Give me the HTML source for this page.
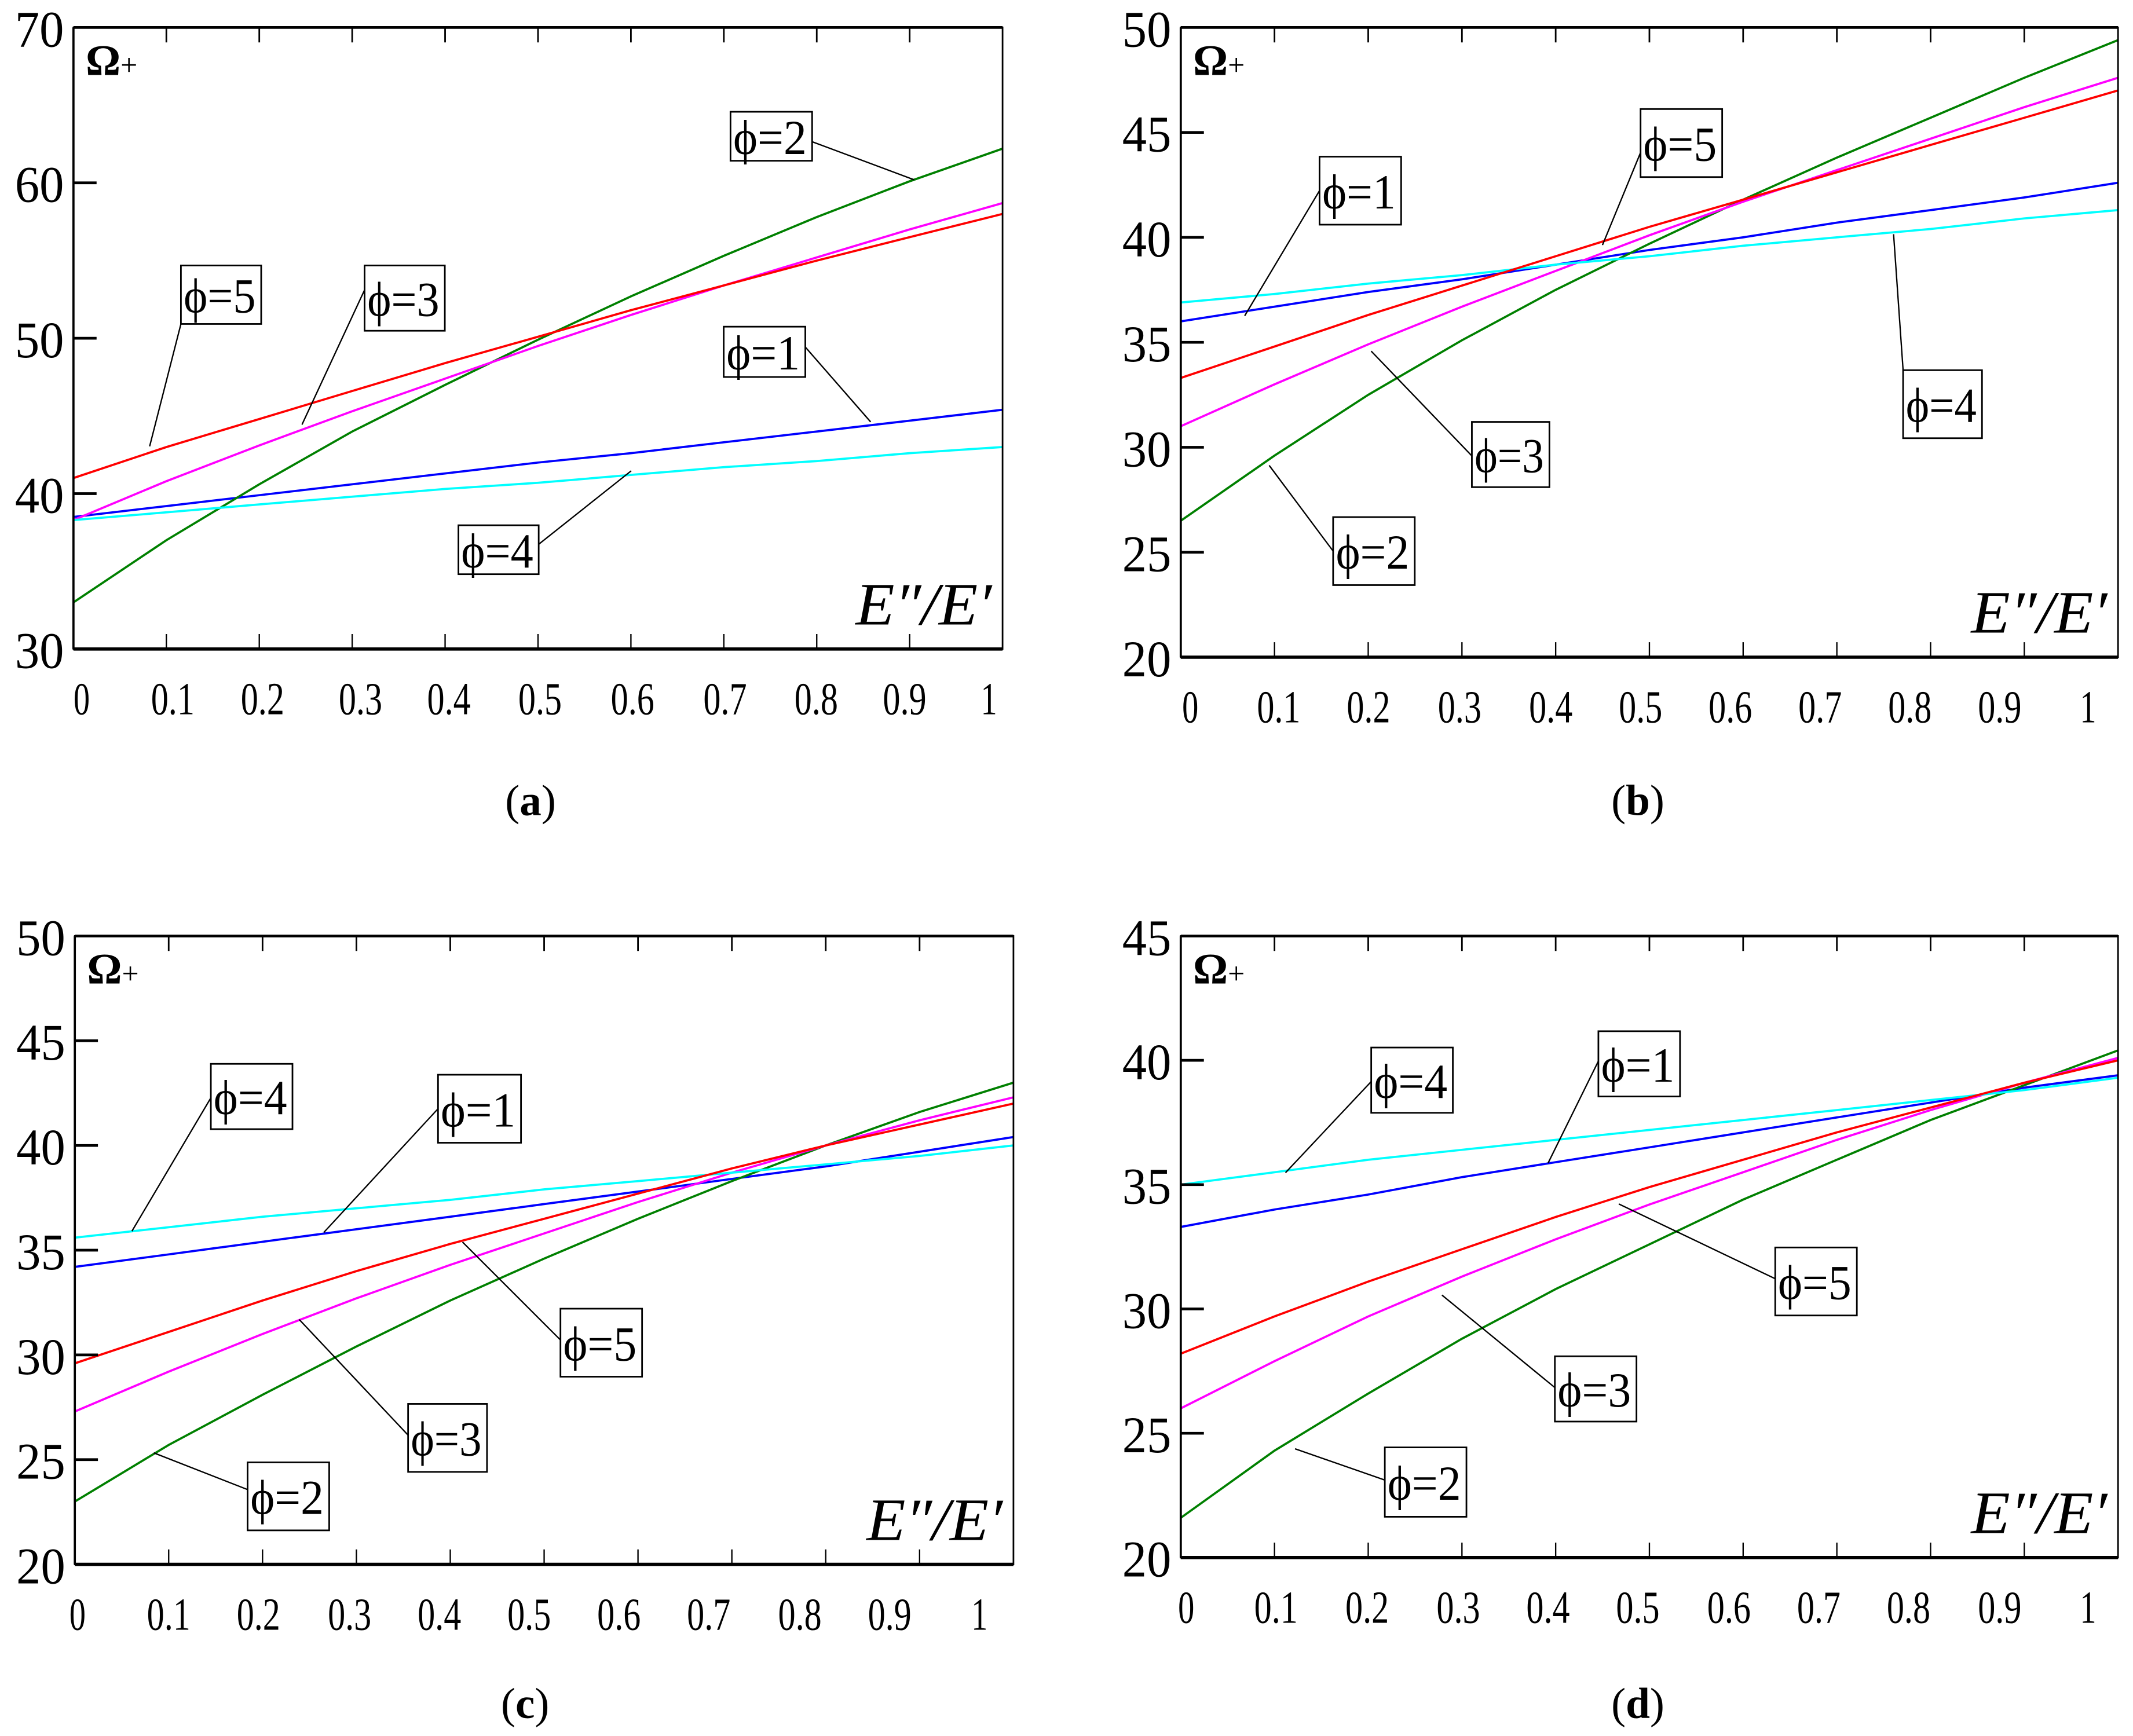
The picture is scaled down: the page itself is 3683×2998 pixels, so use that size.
<!DOCTYPE html>
<html><head><meta charset="utf-8"><style>
html,body{margin:0;padding:0;background:#fff}
svg{display:block}
text{font-family:"Liberation Serif",serif}
</style></head><body>
<svg id="fig" width="3683" height="2998" viewBox="0 0 1568 1276" xmlns="http://www.w3.org/2000/svg"></svg>
<script>
const xTicks = [0,0.1,0.2,0.3,0.4,0.5,0.6,0.7,0.8,0.9,1];
const xTickLabels = ["0","0.1","0.2","0.3","0.4","0.5","0.6","0.7","0.8","0.9","1"];
const seriesNames = ["phi-1","phi-2","phi-3","phi-4","phi-5"];
// panel a
const aYTicks = [30,40,50,60,70];
const aPhi1 = [38.5,39.2,39.9,40.6,41.3,42,42.6,43.3,44,44.7,45.4];
const aPhi2 = [33,37,40.6,44,47,49.9,52.7,55.3,57.8,60.1,62.2];
const aPhi3 = [38.3,40.8,43.1,45.3,47.4,49.5,51.5,53.4,55.2,57,58.7];
const aPhi4 = [38.3,38.8,39.3,39.8,40.3,40.7,41.2,41.7,42.1,42.6,43];
const aPhi5 = [41,43,44.8,46.6,48.4,50.1,51.8,53.4,55,56.5,58];
// panel b
const bYTicks = [20,25,30,35,40,45,50];
const bPhi1 = [36,36.7,37.4,38,38.7,39.4,40,40.7,41.3,41.9,42.6];
const bPhi2 = [26.5,29.6,32.5,35.1,37.5,39.7,41.8,43.8,45.7,47.6,49.4];
const bPhi3 = [31,33,34.9,36.7,38.4,40.1,41.7,43.2,44.7,46.2,47.6];
const bPhi4 = [36.9,37.3,37.8,38.2,38.7,39.1,39.6,40,40.4,40.9,41.3];
const bPhi5 = [33.3,34.8,36.3,37.7,39.1,40.5,41.8,43.1,44.4,45.7,47];
// panel c
const cYTicks = [20,25,30,35,40,45,50];
const cPhi1 = [34.2,34.8,35.4,36,36.6,37.2,37.8,38.4,39,39.7,40.4];
const cPhi2 = [23,25.7,28.1,30.4,32.6,34.6,36.5,38.3,40,41.6,43];
const cPhi3 = [27.3,29.2,31,32.7,34.3,35.8,37.3,38.7,40,41.2,42.3];
const cPhi4 = [35.6,36.1,36.6,37,37.4,37.9,38.3,38.7,39.1,39.5,40];
const cPhi5 = [29.6,31.1,32.6,34,35.3,36.5,37.7,38.9,40,41,42];
// panel d
const dYTicks = [20,25,30,35,40,45];
const dPhi1 = [33.3,34,34.6,35.3,35.9,36.5,37.1,37.7,38.3,38.9,39.4];
const dPhi2 = [21.6,24.3,26.6,28.8,30.8,32.6,34.4,36,37.6,39,40.4];
const dPhi3 = [26,27.9,29.7,31.3,32.8,34.2,35.5,36.8,38,39.1,40.1];
const dPhi4 = [35,35.5,36,36.4,36.8,37.2,37.6,38,38.4,38.8,39.3];
const dPhi5 = [28.2,29.7,31.1,32.4,33.7,34.9,36,37.1,38.1,39.1,40];

const colors = {"phi-1":"#0000ff","phi-2":"#008000","phi-3":"#ff00ff","phi-4":"#00ffff","phi-5":"#ff0000"};
const NS = "http://www.w3.org/2000/svg";
const svg = document.getElementById('fig');
function mk(tag, attrs, parent){const e=document.createElementNS(NS,tag);for(const k in attrs)e.setAttribute(k,attrs[k]);(parent||svg).appendChild(e);return e;}

const panels = [
 {id:"a",box:[54,20,737,477],yTicks:aYTicks,series:[aPhi1,aPhi2,aPhi3,aPhi4,aPhi5],cap:[390,588],
  xlab:[60,127,193,265,330,397,465,533,600,665,727],
  labels:[["phi-2",537,82,60,36,[597,104,672,132]],["phi-5",133,195,59,43,[133,238,110,328]],["phi-3",268,195,59,48,[268,213,222,312]],["phi-1",532,240,60,37,[592,255,640,310]],["phi-4",337,386,59,36,[396,400,464,346]]]},
 {id:"b",box:[868,20,1557,483],yTicks:bYTicks,series:[bPhi1,bPhi2,bPhi3,bPhi4,bPhi5],cap:[1204,588],
  xlab:[875,940,1006,1073,1140,1206,1272,1338,1404,1470,1535],
  labels:[["phi-1",970,115,60,50,[970,140,915,232]],["phi-5",1206,80,60,50,[1206,112,1178,180]],["phi-3",1082,310,57,48,[1082,335,1008,258]],["phi-4",1399,272,58,50,[1399,272,1392,172]],["phi-2",980,380,60,50,[980,405,933,342]]]},
 {id:"c",box:[55,688,745,1150],yTicks:cYTicks,series:[cPhi1,cPhi2,cPhi3,cPhi4,cPhi5],cap:[386,1252],
  xlab:[57,124,190,257,323,389,455,521,588,654,720],
  labels:[["phi-4",155,782,60,48,[155,807,97,905]],["phi-1",322,790,61,50,[322,815,238,906]],["phi-5",412,962,60,50,[412,985,340,913]],["phi-3",300,1032,58,50,[300,1055,220,970]],["phi-2",182,1075,60,50,[182,1095,113,1068]]]},
 {id:"d",box:[868,688,1557,1145],yTicks:dYTicks,series:[dPhi1,dPhi2,dPhi3,dPhi4,dPhi5],cap:[1204,1252],
  xlab:[872,938,1005,1072,1138,1204,1271,1337,1403,1470,1535],
  labels:[["phi-4",1008,770,60,48,[1008,795,945,862]],["phi-1",1175,758,60,48,[1175,780,1138,855]],["phi-5",1305,917,60,50,[1305,940,1190,885]],["phi-3",1143,997,60,48,[1143,1020,1060,952]],["phi-2",1018,1064,60,51,[1018,1088,952,1065]]]}
];

panels.forEach(p=>{
  const g = mk('g',{});
  
  
  const [L,T,R,B]=p.box;
  const yMin=p.yTicks[0], yMax=p.yTicks[p.yTicks.length-1];
  const X=v=>L+(R-L)*v;
  const Y=v=>B-(B-T)*(v-yMin)/(yMax-yMin);
  p.series.forEach((s,i)=>{
    const pts=s.map((v,j)=>X(xTicks[j]).toFixed(1)+","+Y(v).toFixed(1)).join(" ");
    const pl=mk('polyline',{points:pts,fill:"none",stroke:colors[seriesNames[i]],"stroke-width":1.6},g);
    
    
  });
  const fr=mk('rect',{x:L,y:T,width:R-L,height:B-T,fill:"none",stroke:"#000","stroke-width":1.2},g);
  
  
  mk('line',{x1:L,y1:B,x2:R,y2:B,stroke:"#000","stroke-width":2.4},g);
  mk('line',{x1:L,y1:T,x2:R,y2:T,stroke:"#000","stroke-width":2},g);
  mk('line',{x1:L,y1:T,x2:L,y2:B,stroke:"#000","stroke-width":1.6},g);
  xTicks.forEach((v,j)=>{
    if(j>0&&j<xTicks.length-1){
      mk('line',{x1:X(v),y1:B,x2:X(v),y2:B-11,stroke:"#000","stroke-width":1},g);
      mk('line',{x1:X(v),y1:T,x2:X(v),y2:T+11,stroke:"#000","stroke-width":1.2},g);
    }
    const lab=xTickLabels[j];
    const t=mk('text',{x:p.xlab[j],y:B+48,"text-anchor":"middle","font-size":34,textLength:lab.length>1?32:12,lengthAdjust:"spacingAndGlyphs"},g);
    t.textContent=lab;
    
    
  });
  p.yTicks.forEach(v=>{
    if(v!==yMin&&v!==yMax) mk('line',{x1:L,y1:Y(v),x2:L+17,y2:Y(v),stroke:"#000","stroke-width":2},g);
    const t=mk('text',{x:L-7,y:Y(v)+14,"text-anchor":"end","font-size":38,textLength:36,lengthAdjust:"spacingAndGlyphs"},g);
    t.textContent=String(v);
    
    
  });
  const yt=mk('text',{x:L+9,y:T+35,"font-size":32,"font-weight":"bold"},g);
  yt.innerHTML='Ω<tspan font-size="22" font-weight="normal">+</tspan>';
  
  
  const xt=mk('text',{x:R-8,y:B-18,"text-anchor":"end","font-size":44,"font-style":"italic",textLength:100,lengthAdjust:"spacingAndGlyphs"},g);
  xt.textContent='E″/E′';
  
  
  p.labels.forEach(lb=>{
    const [name,x,y,w,h,ln]=lb;
    const lg=mk('g',{},g);
    
    
    mk('line',{x1:ln[0],y1:ln[1],x2:ln[2],y2:ln[3],stroke:"#000","stroke-width":1},lg);
    mk('rect',{x:x,y:y,width:w,height:h,fill:"#fff",stroke:"#000","stroke-width":1.2},lg);
    const t=mk('text',{x:x+2,y:y+h/2+13,"font-size":36,textLength:w-6,lengthAdjust:"spacingAndGlyphs"},lg);
    t.textContent='ϕ='+name.slice(4);
  });
  const cp=mk('text',{x:p.cap[0],y:p.cap[1]+11,"text-anchor":"middle","font-size":32},g);
  cp.innerHTML='(<tspan font-weight="bold">'+p.id+'</tspan>)';
  
  
});
</script>
</body></html>
